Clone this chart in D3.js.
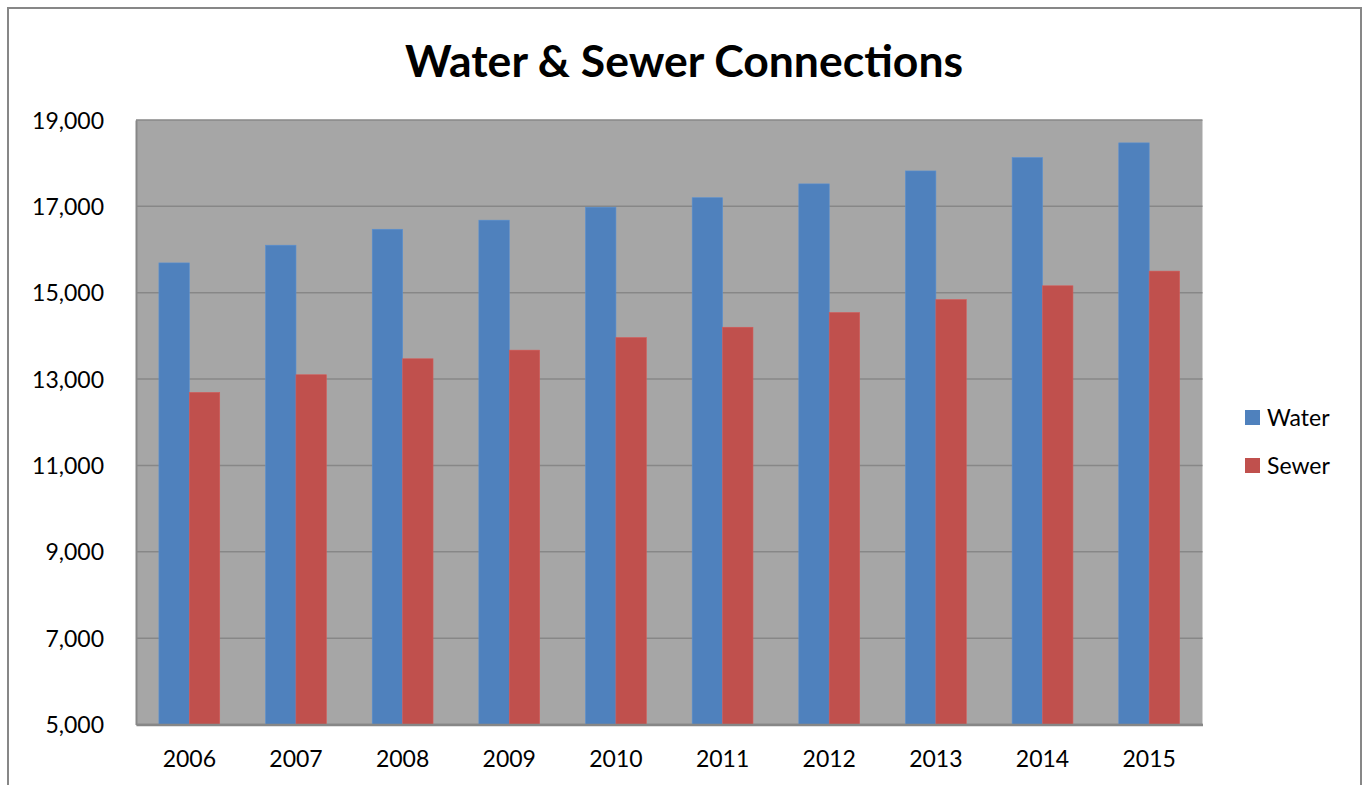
<!DOCTYPE html>
<html>
<head>
<meta charset="utf-8">
<script src="https://cdn.jsdelivr.net/npm/d3@7"></script>
<style>
    body { margin: 0; background: #fff; }
    svg { display: block; }
    text { font-family: Lato, "Open Sans", sans-serif; fill: #000; }
</style>
</head>
<body>
<svg id="chart" width="1364" height="785"></svg>
<script>
var years = ['2006', '2007', '2008', '2009', '2010', '2011', '2012', '2013', '2014', '2015'];
var water = [15690, 16100, 16470, 16680, 16980, 17200, 17520, 17820, 18130, 18470];
var sewer = [12690, 13100, 13470, 13670, 13960, 14200, 14540, 14840, 15160, 15500];
var seriesNames = ['Water', 'Sewer'];
var yTicks = [5000, 7000, 9000, 11000, 13000, 15000, 17000, 19000];

var colors = {Water: '#4f81bd', Sewer: '#c0504d'};

var svg = d3.select('#chart');

var margin = {left: 136, top: 120, right: 1202.5, bottom: 724.5};

// outer frame (bottom edge falls outside the picture)
svg.append('rect')
    .attr('x', 8).attr('y', 8)
    .attr('width', 1353).attr('height', 800)
    .attr('fill', '#fff')
    .attr('stroke', '#878787')
    .attr('stroke-width', 2);

var x = d3.scaleBand()
    .domain(years)
    .range([margin.left, margin.right]);

var x1 = d3.scaleBand()
    .domain(seriesNames)
    .range([0, x.bandwidth() * 0.57])
    .padding(0);

var y = d3.scaleLinear()
    .domain([5000, 19000])
    .range([margin.bottom, margin.top]);

// plot background
svg.append('rect')
    .attr('x', margin.left).attr('y', margin.top)
    .attr('width', margin.right - margin.left)
    .attr('height', margin.bottom - margin.top)
    .attr('fill', '#a6a6a6');

// gridlines
svg.append('g')
    .selectAll('line')
    .data(yTicks)
    .enter()
    .append('line')
    .attr('x1', margin.left).attr('x2', margin.right)
    .attr('y1', function(d){ return y(d); })
    .attr('y2', function(d){ return y(d); })
    .attr('stroke', '#878787')
    .attr('stroke-width', 1.5);

// bars
var rows = years.map(function(yr, i){
    return {year: yr, values: [{key: 'Water', v: water[i]}, {key: 'Sewer', v: sewer[i]}]};
});

var offset = (x.bandwidth() - x1.range()[1]) / 2;

svg.append('g')
    .selectAll('g')
    .data(rows)
    .enter()
    .append('g')
    .attr('transform', function(d){ return 'translate(' + (x(d.year) + offset) + ',0)'; })
    .selectAll('rect')
    .data(function(d){ return d.values; })
    .enter()
    .append('rect')
    .attr('x', function(d){ return x1(d.key); })
    .attr('width', x1.bandwidth())
    .attr('y', function(d){ return y(d.v); })
    .attr('height', function(d){ return y(5000) - y(d.v); })
    .attr('fill', function(d){ return colors[d.key]; })
    .attr('stroke', function(d){ return d3.color(colors[d.key]).brighter(0.3); })
    .attr('stroke-width', 0.6);

// axes
var yAxis = svg.append('g')
    .attr('transform', 'translate(' + margin.left + ',0)')
    .call(d3.axisLeft(y).tickValues(yTicks).tickFormat(d3.format(',')).tickSize(0).tickPadding(32));
yAxis.select('.domain').attr('stroke', '#878787').attr('stroke-width', 2);
yAxis.selectAll('text').style('font-size', '23px').attr('dy', '0.35em');

var xAxis = svg.append('g')
    .attr('transform', 'translate(0,' + margin.bottom + ')')
    .call(d3.axisBottom(x).tickSize(0).tickPadding(26));
xAxis.select('.domain').attr('stroke', '#878787').attr('stroke-width', 2.5);
xAxis.selectAll('text').style('font-size', '23px');

// title
svg.append('text')
    .attr('x', 684).attr('y', 77)
    .attr('text-anchor', 'middle')
    .style('font-size', '44.5px')
    .style('font-weight', 'bold')
    .text('Water & Sewer Connections');

// legend
var legend = svg.append('g')
    .selectAll('g')
    .data(seriesNames)
    .enter()
    .append('g')
    .attr('transform', function(d, i){ return 'translate(1245,' + (410 + i * 48) + ')'; });

legend.append('rect')
    .attr('width', 15).attr('height', 15)
    .attr('fill', function(d){ return colors[d]; });

legend.append('text')
    .attr('x', 22).attr('y', 7.5)
    .attr('dy', '0.35em')
    .style('font-size', '23px')
    .text(function(d){ return d; });
</script>
</body>
</html>
